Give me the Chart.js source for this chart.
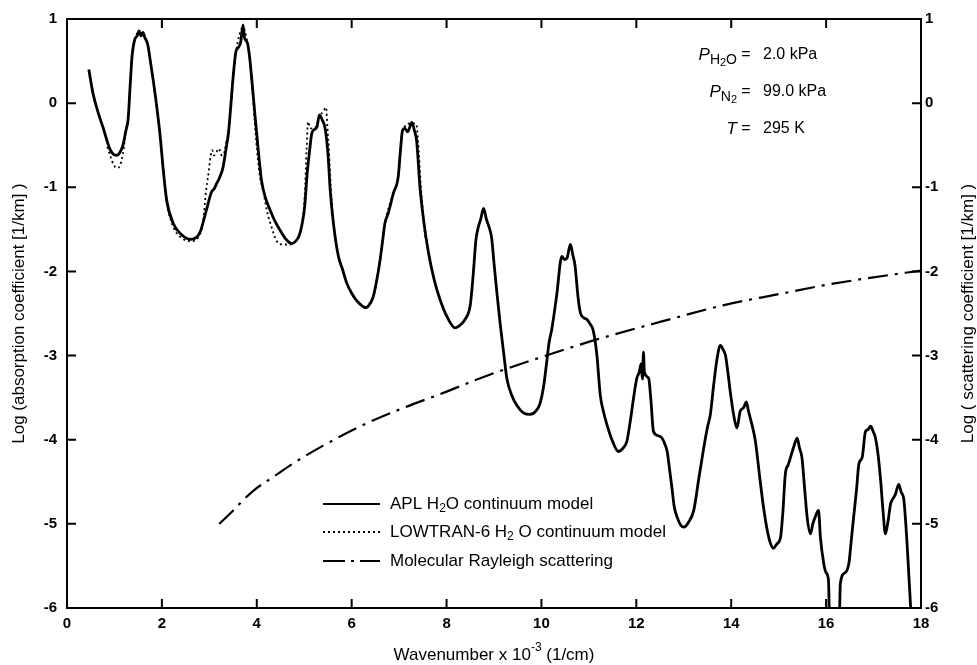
<!DOCTYPE html>
<html>
<head>
<meta charset="utf-8">
<title>H2O continuum absorption and Rayleigh scattering</title>
<script src="https://cdn.jsdelivr.net/npm/chart.js@4.4.1/dist/chart.umd.min.js"></script>
<style>
  body { margin: 0; background: #fff; }
  #wrap { width: 977px; height: 665px; }
</style>
</head>
<body>
<div id="wrap"><canvas id="myChart"></canvas></div>
<script>

// tick labels
var xTicks = [0, 2, 4, 6, 8, 10, 12, 14, 16, 18];
var yTicks = [1, 0, -1, -2, -3, -4, -5, -6];

// APL H2O continuum model (log absorption, 1/km) vs wavenumber x 10^-3
var aplX = [0.46, 0.55, 0.65, 0.76, 0.90, 0.98, 1.05, 1.12, 1.18, 1.24, 1.29, 1.33, 1.37, 1.43, 1.48, 1.52, 1.56, 1.60, 1.64, 1.70,
  1.77, 1.85, 1.96, 2.03, 2.10, 2.24, 2.41, 2.61, 2.80, 2.92, 3.05, 3.10, 3.15, 3.22, 3.29, 3.35, 3.40, 3.45, 3.50, 3.56,
  3.61, 3.66, 3.71, 3.74, 3.78, 3.81, 3.85, 3.90, 3.96, 4.03, 4.10, 4.18, 4.28, 4.38, 4.49, 4.62, 4.74, 4.82, 4.89, 4.95,
  5.01, 5.06, 5.11, 5.16, 5.22, 5.27, 5.32, 5.38, 5.44, 5.50, 5.55, 5.62, 5.72, 5.81, 5.89, 6.00, 6.11, 6.30, 6.40, 6.46,
  6.53, 6.60, 6.66, 6.70, 6.77, 6.88, 6.98, 7.03, 7.07, 7.12, 7.18, 7.27, 7.32, 7.37, 7.44, 7.53, 7.62, 7.74, 7.86, 8.02,
  8.18, 8.30, 8.39, 8.50, 8.56, 8.62, 8.68, 8.72, 8.78, 8.84, 8.90, 8.95, 9.00, 9.06, 9.13, 9.20, 9.27, 9.38, 9.48, 9.62,
  9.76, 9.88, 9.97, 10.05, 10.11, 10.16, 10.22, 10.32, 10.43, 10.49, 10.54, 10.61, 10.66, 10.71, 10.77, 10.82, 10.89, 10.96, 11.02, 11.08,
  11.13, 11.17, 11.24, 11.30, 11.38, 11.50, 11.62, 11.72, 11.80, 11.88, 11.94, 12.01, 12.06, 12.10, 12.13, 12.15, 12.17, 12.26, 12.31, 12.36,
  12.45, 12.54, 12.60, 12.65, 12.70, 12.75, 12.80, 12.86, 12.93, 13.00, 13.10, 13.21, 13.32, 13.42, 13.50, 13.56, 13.63, 13.70, 13.77, 13.83,
  13.88, 13.93, 13.98, 14.05, 14.12, 14.19, 14.26, 14.32, 14.36, 14.40, 14.45, 14.51, 14.61, 14.68, 14.76, 14.82, 14.89, 14.96, 15.04, 15.09,
  15.14, 15.20, 15.25, 15.32, 15.39, 15.44, 15.49, 15.55, 15.60, 15.67, 15.72, 15.77, 15.84, 15.88, 15.95, 16.00, 16.05, 16.08, 16.18, 16.27,
  16.30, 16.40, 16.48, 16.53, 16.58, 16.64, 16.69, 16.76, 16.83, 16.88, 16.94, 16.99, 17.04, 17.10, 17.15, 17.20, 17.25, 17.31, 17.36, 17.41,
  17.46, 17.53, 17.58, 17.64, 17.71, 17.78, 17.82];
var aplY = [0.40, 0.11, -0.10, -0.29, -0.54, -0.61, -0.62, -0.58, -0.50, -0.33, -0.18, 0.20, 0.55, 0.76, 0.80, 0.86, 0.80, 0.84, 0.78, 0.70,
  0.45, 0.14, -0.37, -0.80, -1.15, -1.43, -1.56, -1.62, -1.54, -1.31, -1.05, -1.02, -0.96, -0.88, -0.76, -0.55, -0.37, -0.05, 0.30, 0.61,
  0.66, 0.72, 0.93, 0.78, 0.74, 0.70, 0.54, 0.25, -0.13, -0.55, -0.92, -1.12, -1.27, -1.40, -1.51, -1.62, -1.67, -1.64, -1.58, -1.45,
  -1.23, -0.85, -0.58, -0.36, -0.31, -0.28, -0.14, -0.20, -0.30, -0.60, -1.05, -1.45, -1.82, -1.98, -2.13, -2.26, -2.35, -2.43, -2.37, -2.29,
  -2.10, -1.86, -1.60, -1.43, -1.31, -1.07, -0.88, -0.55, -0.33, -0.30, -0.34, -0.23, -0.32, -0.45, -1.00, -1.45, -1.78, -2.10, -2.33, -2.55,
  -2.67, -2.63, -2.57, -2.40, -2.05, -1.62, -1.45, -1.38, -1.25, -1.38, -1.48, -1.60, -1.90, -2.25, -2.62, -2.95, -3.27, -3.48, -3.59, -3.68,
  -3.70, -3.66, -3.57, -3.35, -3.08, -2.85, -2.68, -2.29, -1.82, -1.86, -1.84, -1.68, -1.80, -1.94, -2.30, -2.49, -2.55, -2.57, -2.62, -2.68,
  -2.82, -3.00, -3.47, -3.65, -3.82, -4.02, -4.14, -4.10, -4.02, -3.75, -3.51, -3.27, -3.20, -3.10, -3.28, -2.96, -3.20, -3.27, -3.55, -3.90,
  -3.95, -3.98, -4.05, -4.14, -4.35, -4.57, -4.80, -4.92, -5.01, -5.04, -4.98, -4.84, -4.45, -4.10, -3.85, -3.70, -3.35, -3.04, -2.88, -2.93,
  -3.00, -3.20, -3.43, -3.70, -3.86, -3.66, -3.62, -3.55, -3.65, -3.74, -3.85, -4.02, -4.49, -4.80, -5.08, -5.22, -5.29, -5.24, -5.16, -4.85,
  -4.41, -4.30, -4.21, -4.08, -3.98, -4.10, -4.21, -4.60, -4.92, -5.12, -5.00, -4.92, -4.84, -5.16, -5.47, -5.58, -5.67, -6.40, -6.60, -6.40,
  -5.71, -5.58, -5.47, -5.20, -4.92, -4.60, -4.29, -4.21, -3.90, -3.88, -3.84, -3.90, -3.98, -4.20, -4.49, -4.85, -5.12, -4.95, -4.76, -4.70,
  -4.65, -4.53, -4.62, -4.72, -5.27, -5.98, -6.40];

// LOWTRAN-6 H2O continuum model (only where it departs from APL)
var lowX = [0.85, 0.92, 0.98, 1.05, 1.10, 1.15, 1.20, 1.24, 1.29, 1.33, 1.37, 1.43, 1.52, 1.62, 1.70, 1.77, 1.85, 1.96, 2.03, 2.10,
  2.24, 2.41, 2.61, 2.80, 2.87, 2.93, 2.98, 3.03, 3.06, 3.10, 3.15, 3.20, 3.26, 3.31, 3.36, 3.40, 3.45, 3.50, 3.56, 3.71,
  3.81, 3.85, 3.90, 3.96, 4.02, 4.07, 4.14, 4.21, 4.31, 4.42, 4.56, 4.70, 4.82, 4.89, 4.95, 5.01, 5.05, 5.08, 5.13, 5.20,
  5.27, 5.32, 5.40, 5.46, 5.49, 5.52, 5.56, 5.62, 5.72, 5.81, 5.89, 6.11, 6.30, 6.46, 6.60, 6.70, 6.88, 6.98, 7.03, 7.07,
  7.27, 7.36, 7.40, 7.46, 7.55];
var lowY = [-0.52, -0.64, -0.73, -0.77, -0.76, -0.68, -0.52, -0.33, -0.18, 0.20, 0.55, 0.76, 0.84, 0.80, 0.70, 0.45, 0.12, -0.37, -0.80, -1.17,
  -1.47, -1.60, -1.64, -1.56, -1.40, -1.05, -0.84, -0.62, -0.56, -0.62, -0.58, -0.54, -0.62, -0.60, -0.45, -0.37, -0.05, 0.30, 0.60, 0.90,
  0.70, 0.54, 0.20, -0.25, -0.65, -0.88, -1.05, -1.27, -1.47, -1.64, -1.68, -1.68, -1.64, -1.58, -1.45, -1.10, -0.55, -0.22, -0.30, -0.30,
  -0.25, -0.16, -0.10, -0.05, -0.30, -0.55, -1.00, -1.45, -1.82, -1.98, -2.13, -2.35, -2.43, -2.29, -1.86, -1.43, -1.07, -0.88, -0.55, -0.33,
  -0.24, -0.25, -0.45, -1.00, -1.60];

// Molecular Rayleigh scattering (log scattering, 1/km)
var rayX = [3.21, 3.45, 3.64, 3.92, 4.38, 4.80, 5.40, 6.30, 7.10, 7.90, 8.85, 10.15, 11.10, 12.50, 13.85, 15.00, 16.00, 17.00, 18.00];
var rayY = [-5.00, -4.87, -4.76, -4.61, -4.43, -4.27, -4.07, -3.81, -3.62, -3.45, -3.24, -2.99, -2.82, -2.60, -2.40, -2.27, -2.16, -2.07, -1.99];

var FONT = '"Liberation Sans", Arial, sans-serif';

function toPoints(xs, ys) {

  var pts = [];

  for (var i = 0; i < xs.length; i++) {
    pts.push({ x: xs[i], y: ys[i] });
  }

  return pts;
}

// draws a run of text pieces [text, size, dy, style]
function drawParts(ctx, parts, x, y) {

  var cx = x;

  parts.forEach(function(p) {
    ctx.font = (p[3] || '') + ' ' + p[1] + 'px ' + FONT;
    ctx.fillText(p[0], cx, y + (p[2] || 0));
    cx += ctx.measureText(p[0]).width;
  });

  return cx;
}

function partsWidth(ctx, parts) {

  var w = 0;

  parts.forEach(function(p) {
    ctx.font = (p[3] || '') + ' ' + p[1] + 'px ' + FONT;
    w += ctx.measureText(p[0]).width;
  });

  return w;
}

var decorations = {

  id: 'decorations',
  afterDraw: function(chart) {

    var ctx = chart.ctx;
    var a = chart.chartArea;
    var xs = chart.scales.x;
    var ys = chart.scales.y;

    ctx.save();
    ctx.strokeStyle = '#000';
    ctx.fillStyle = '#000';
    ctx.lineWidth = 2;
    ctx.setLineDash([]);

    // frame
    ctx.strokeRect(a.left, a.top, a.right - a.left, a.bottom - a.top);

    // inward ticks
    ctx.beginPath();
    for (var i = 1; i < xTicks.length - 1; i++) {
      var px = xs.getPixelForValue(xTicks[i]);
      ctx.moveTo(px, a.bottom); ctx.lineTo(px, a.bottom - 9);
      ctx.moveTo(px, a.top); ctx.lineTo(px, a.top + 9);
    }
    for (var j = 1; j < yTicks.length - 1; j++) {
      var py = ys.getPixelForValue(yTicks[j]);
      ctx.moveTo(a.left, py); ctx.lineTo(a.left + 9, py);
      ctx.moveTo(a.right, py); ctx.lineTo(a.right - 9, py);
    }
    ctx.stroke();

    ctx.textBaseline = 'middle';
    ctx.textAlign = 'left';

    // axis titles
    var midY = (a.top + a.bottom) / 2;
    ctx.save();
    ctx.translate(a.left - 48, midY);
    ctx.rotate(-Math.PI / 2);
    ctx.textAlign = 'center';
    ctx.font = '17px ' + FONT;
    ctx.fillText('Log (absorption coefficient [1/km] )', 0, 0);
    ctx.restore();

    ctx.save();
    ctx.translate(a.right + 47, midY);
    ctx.rotate(-Math.PI / 2);
    ctx.textAlign = 'center';
    ctx.font = '17px ' + FONT;
    ctx.fillText('Log ( scattering coefficient [1/km] )', 0, 0);
    ctx.restore();

    var xTitle = [['Wavenumber x 10', 17], ['-3', 12, -7], [' (1/cm)', 17]];
    var xw = partsWidth(ctx, xTitle);
    drawParts(ctx, xTitle, (a.left + a.right) / 2 - xw / 2, a.bottom + 47);

    // conditions
    var eqX = 746;
    var valX = 763;
    var rows = [
      [[['P', 17, 0, 'italic'], ['H', 14, 5], ['2', 11, 8], ['O', 14, 5]], '2.0 kPa', 55],
      [[['P', 17, 0, 'italic'], ['N', 14, 5], ['2', 11, 8]], '99.0 kPa', 92],
      [[['T', 17, 0, 'italic']], '295 K', 129]
    ];
    rows.forEach(function(r) {
      var lw = partsWidth(ctx, r[0]);
      drawParts(ctx, r[0], eqX - 9 - lw, r[2]);
      ctx.font = '16px ' + FONT;
      ctx.textAlign = 'center';
      ctx.fillText('=', eqX, r[2]);
      ctx.textAlign = 'left';
      ctx.fillText(r[1], valX, r[2]);
    });

    // legend
    var legend = [
      [0, [['APL H', 17], ['2', 12, 5], ['O continuum model', 17]], 504],
      [1, [['LOWTRAN-6 H', 17], ['2', 12, 5], [' O continuum model', 17]], 532],
      [2, [['Molecular Rayleigh scattering', 17]], 561]
    ];
    ctx.save();
    ctx.beginPath();
    ctx.rect(323, 480, 57, 100);
    ctx.clip();
    legend.forEach(function(l) {
      var ds = chart.data.datasets[l[0]];
      ctx.beginPath();
      ctx.lineWidth = l[0] === 0 ? 2 : ds.borderWidth;
      ctx.setLineDash(l[0] === 2 ? [22, 6, 3, 6] : (ds.borderDash || []));
      ctx.moveTo(323, l[2]);
      ctx.lineTo(382, l[2]);
      ctx.stroke();
    });
    ctx.restore();
    ctx.setLineDash([]);
    legend.forEach(function(l) {
      drawParts(ctx, l[1], 390, l[2]);
    });

    ctx.restore();
  }
};

function stampChart() {

  var ctx = document.getElementById('myChart').getContext('2d');

  var tickFont = { family: FONT, size: 15, weight: 'bold' };

  var chart = new Chart(ctx, {

    type: 'scatter',
    data: {
      datasets: [{
        label: 'APL H2O continuum model',
        data: toPoints(aplX, aplY),
        showLine: true,
        borderColor: '#000',
        borderWidth: 2.8,
        pointRadius: 0,
        cubicInterpolationMode: 'monotone'
      }, {
        label: 'LOWTRAN-6 H2O continuum model',
        data: toPoints(lowX, lowY),
        showLine: true,
        borderColor: '#000',
        borderWidth: 1.8,
        borderDash: [2, 3],
        pointRadius: 0,
        cubicInterpolationMode: 'monotone'
      }, {
        label: 'Molecular Rayleigh scattering',
        data: toPoints(rayX, rayY),
        showLine: true,
        borderColor: '#000',
        borderWidth: 2.2,
        borderDash: [20, 7, 3, 7],
        pointRadius: 0,
        cubicInterpolationMode: 'monotone'
      }]
    },
    options: {
      responsive: true,
      maintainAspectRatio: false,
      animation: false,
      layout: { padding: { top: 14, left: 0, right: 0, bottom: 0 } },
      plugins: {
        legend: { display: false },
        tooltip: { enabled: false }
      },
      scales: {
        x: {
          type: 'linear',
          position: 'bottom',
          min: 0,
          max: 18,
          afterBuildTicks: function(s) { s.ticks = xTicks.map(function(v) { return { value: v }; }); },
          afterFit: function(s) { s.height = 57; },
          ticks: { font: tickFont, color: '#000', padding: 7, maxRotation: 0, autoSkip: false,
            callback: function(v) { return String(v); } },
          grid: { display: false, tickLength: 0 },
          border: { display: false }
        },
        y: {
          type: 'linear',
          position: 'left',
          min: -6,
          max: 1,
          afterBuildTicks: function(s) { s.ticks = yTicks.map(function(v) { return { value: v }; }); },
          afterFit: function(s) { s.width = 67; },
          ticks: { font: tickFont, color: '#000', padding: 10, autoSkip: false,
            callback: function(v) { return String(v); } },
          grid: { display: false, tickLength: 0 },
          border: { display: false }
        },
        y2: {
          type: 'linear',
          position: 'right',
          min: -6,
          max: 1,
          afterBuildTicks: function(s) { s.ticks = yTicks.map(function(v) { return { value: v }; }); },
          afterFit: function(s) { s.width = 56; },
          ticks: { font: tickFont, color: '#000', padding: 4, autoSkip: false,
            callback: function(v) { return String(v); } },
          grid: { display: false, tickLength: 0 },
          border: { display: false }
        }
      }
    },
    plugins: [decorations]
  });
}

function init() {

  stampChart();
}

init();
</script>
</body>
</html>
